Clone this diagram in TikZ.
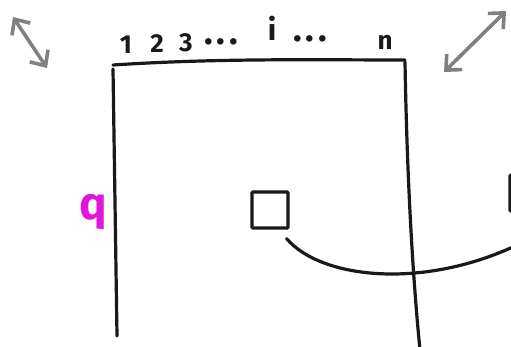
\documentclass[tikz,border=0pt]{standalone}
\usepackage{fontspec}
\setsansfont{Fira Sans}
\usetikzlibrary{arrows.meta,positioning}
\definecolor{qpink}{HTML}{E016DA}

\begin{document}
\begin{tikzpicture}[x=1pt, y=-1pt,
    stroke/.style={line width=3.2pt, line cap=round, line join=round, draw=black!90},
    index/.style={font=\sffamily\bfseries\fontsize{26}{26}\selectfont, inner sep=0pt, text=black!90},
    dots/.style={font=\sffamily\bfseries\fontsize{36}{36}\selectfont, inner sep=0pt, text=black!90},
    cell/.style={draw=black!90, line width=3.2pt, minimum size=36pt, inner sep=0pt, rounded corners=1pt},
    zoomarrow/.style={{Straight Barb[length=12pt,width=22pt]}-{Straight Barb[length=12pt,width=22pt]}, line width=3.6pt, draw=black!50, line cap=round},
    qlabel/.style={font=\sffamily\bfseries\fontsize{46}{46}\selectfont, inner sep=0pt, text=qpink},
]
\useasboundingbox (0,0) rectangle (511,346);
\clip (0,0) rectangle (511,346);

% Frame (open at the bottom)
\coordinate (tl) at (113,65);
\coordinate (tr) at (405,60);
\coordinate (bl) at (117,336);
\coordinate (br) at (420,350);
\draw[stroke] (tl) .. controls (220,58) and (320,60) .. (tr);
\draw[stroke] ([yshift=-4pt]tl) -- (bl);
\draw[stroke] ([yshift=-2pt]tr) .. controls (407,180) and (413,280) .. (br);

% Column indices
\node[index] (idx1) at (126,45) {1};
\node[index] (idx2) at (157,44) {2};
\node[index] (idx3) at (186,43) {3};
\node[dots] (dotsA) at (221,42) {.\hspace{4pt}.\hspace{4pt}.};
\node[index, font=\sffamily\bfseries\fontsize{30}{30}\selectfont] (idxi) at (272,28) {i};
\node[dots] (dotsB) at (310,39) {.\hspace{4pt}.\hspace{4pt}.};
\node[index] (idxn) at (385,42) {n};

% Row label
\node[qlabel] (q) at (93,212) {q};

% Cells
\node[cell] (cell) at (270,210) {};
\node[cell] (cellR) at (528,193) {};
\coordinate (link) at (515,246);
\draw[stroke] ([xshift=-3pt,yshift=-9pt]cell.south east) .. controls (320,278) and (420,290) .. (link);

% Zoom arrows
\coordinate (zl1) at (13,17);
\coordinate (zl2) at (47,68);
\coordinate (zr1) at (444,72);
\coordinate (zr2) at (506,11);
\draw[zoomarrow] (zl1) -- (zl2);
\draw[zoomarrow] (zr1) -- (zr2);

\end{tikzpicture}
\end{document}
